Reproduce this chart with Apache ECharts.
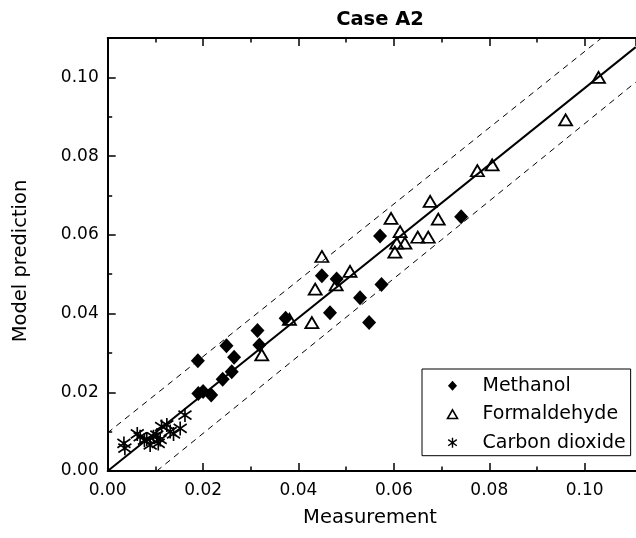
<!DOCTYPE html>
<html>
<head>
<meta charset="utf-8">
<script src="https://cdn.jsdelivr.net/npm/echarts@6/dist/echarts.min.js"></script>
<style>html,body{margin:0;padding:0;background:#fff}#c{width:636px;height:538px}</style>
</head>
<body>
<div id="c"></div>
<script>
// ---- data ----
const methanolX = [0.0189, 0.0190, 0.0200, 0.0217, 0.0241, 0.0249, 0.0260, 0.0265, 0.0314, 0.0318, 0.0373, 0.0449, 0.0466, 0.0480, 0.0529, 0.0548, 0.0571, 0.0574, 0.0741];
const methanolY = [0.0280, 0.0197, 0.0202, 0.0193, 0.0233, 0.0318, 0.0252, 0.0289, 0.0357, 0.0320, 0.0388, 0.0496, 0.0402, 0.0488, 0.0440, 0.0377, 0.0597, 0.0474, 0.0646];
const formX = [0.0323, 0.0381, 0.0428, 0.0435, 0.0449, 0.0479, 0.0508, 0.0594, 0.0602, 0.0606, 0.0613, 0.0623, 0.0650, 0.0672, 0.0676, 0.0693, 0.0775, 0.0806, 0.0960, 0.1029];
const formY = [0.0295, 0.0385, 0.0377, 0.0462, 0.0545, 0.0473, 0.0507, 0.0642, 0.0556, 0.0579, 0.0608, 0.0579, 0.0594, 0.0594, 0.0685, 0.0640, 0.0763, 0.0778, 0.0892, 0.1000];
const co2X = [0.0034, 0.0036, 0.0062, 0.0068, 0.0077, 0.0082, 0.0089, 0.0096, 0.0103, 0.0106, 0.0110, 0.0113, 0.0124, 0.0131, 0.0138, 0.0152, 0.0162];
const co2Y = [0.0070, 0.0058, 0.0094, 0.0087, 0.0078, 0.0081, 0.0066, 0.0087, 0.0091, 0.0070, 0.0080, 0.0113, 0.0117, 0.0100, 0.0094, 0.0108, 0.0142];
const fitLine = [[0, 0], [0.1107, 0.1077]];
const upperBand = [[0, 0.0097], [0.1035, 0.1100]];
const lowerBand = [[0.0103, 0], [0.1107, 0.0988]];
const seriesNames = ['Methanol', 'Formaldehyde', 'Carbon dioxide'];
const titleText = 'Case A2';
const xName = 'Measurement';
const yName = 'Model prediction';
const xMax = 0.1107, yMax = 0.11, xMinorMax = 0.10;

function pairs(xs, ys) { return xs.map((x, i) => [x, ys[i]]); }

const FONT = '"DejaVu Sans", sans-serif';
const BLACK = '#000';
const DIAMOND = 'path://M5,0L10,5.5L5,11L0,5.5Z';
const TRIANGLE = 'path://M5,0L10,8.66L0,8.66Z';
const STAR = 'path://M5,0L5,10M0.7,1.9L9.3,8.1M9.3,1.9L0.7,8.1';

const pxLeft = 107.7, pxTop = 38.1, pxPerX = 4770, pxPerY = 3935;

const majorTick = { show: true, inside: true, length: 8, lineStyle: { color: BLACK, width: 1.5 } };
const minorTick = { show: true, inside: true, length: 4.5, lineStyle: { color: BLACK, width: 1.5 } };
const axisLine = { show: true, onZero: false, lineStyle: { color: BLACK, width: 2 } };
const label = { color: BLACK, fontSize: 17, fontFamily: FONT, formatter: v => v.toFixed(2), showMaxLabel: false };

const chart = echarts.init(document.getElementById('c'), null, { renderer: 'canvas' });
chart.setOption({
  animation: false,
  backgroundColor: '#fff',
  grid: [
    { left: pxLeft, top: pxTop, width: xMax * pxPerX, height: yMax * pxPerY, containLabel: false, outerBoundsMode: 'none' },
    { left: pxLeft, top: pxTop, width: xMinorMax * pxPerX, height: yMax * pxPerY, containLabel: false, outerBoundsMode: 'none' }
  ],
  xAxis: [
    { gridIndex: 0, type: 'value', position: 'bottom', min: 0, max: xMax, interval: 0.02, axisLine, axisTick: majorTick,
      axisLabel: Object.assign({ margin: 11 }, label), splitLine: { show: false } },
    { gridIndex: 0, type: 'value', position: 'top', min: 0, max: xMax, interval: 0.02, axisLine, axisTick: majorTick,
      axisLabel: { show: false }, splitLine: { show: false } },
    { gridIndex: 1, type: 'value', position: 'bottom', min: 0, max: xMinorMax, interval: 0.01, axisLine: { show: false, onZero: false }, axisTick: minorTick,
      axisLabel: { show: false }, splitLine: { show: false } },
    { gridIndex: 1, type: 'value', position: 'top', min: 0, max: xMinorMax, interval: 0.01, axisLine: { show: false, onZero: false }, axisTick: minorTick,
      axisLabel: { show: false }, splitLine: { show: false } }
  ],
  yAxis: [
    { gridIndex: 0, type: 'value', position: 'left', min: 0, max: yMax, interval: 0.02, axisLine, axisTick: majorTick,
      axisLabel: Object.assign({ margin: 9 }, label), splitLine: { show: false } },
    { gridIndex: 0, type: 'value', position: 'left', offset: 0, min: 0, max: yMax, interval: 0.01, axisLine: { show: false, onZero: false }, axisTick: minorTick,
      axisLabel: { show: false }, splitLine: { show: false } },
    { gridIndex: 1, type: 'value', show: false, min: 0, max: yMax }
  ],
  legend: {
    orient: 'vertical', left: 422, top: 369,
    padding: [7.2, 5, 3.5, 24.7], itemGap: 9.5, itemWidth: 10, itemHeight: 10,
    borderColor: BLACK, borderWidth: 1, backgroundColor: '#fff', borderRadius: 0,
    symbolKeepAspect: true, selectedMode: false,
    textStyle: { color: BLACK, fontSize: 19, fontFamily: FONT, padding: [0, 0, 0, 20] },
    data: [
      { name: seriesNames[0], icon: DIAMOND, itemStyle: { borderWidth: 0 } },
      { name: seriesNames[1], icon: TRIANGLE, itemStyle: { borderWidth: 1.6 } },
      { name: seriesNames[2], icon: STAR, itemStyle: { borderWidth: 1.4 } }
    ]
  },
  graphic: [
    { type: 'text', x: 380, y: 20, style: { text: titleText, font: 'bold 19.5px ' + FONT, fill: BLACK, textAlign: 'center', textVerticalAlign: 'middle' } },
    { type: 'text', x: 370, y: 518, style: { text: xName, font: '19.5px ' + FONT, fill: BLACK, textAlign: 'center', textVerticalAlign: 'middle' } },
    { type: 'text', x: 21, y: 261, rotation: Math.PI / 2, style: { text: yName, font: '19.5px ' + FONT, fill: BLACK, textAlign: 'center', textVerticalAlign: 'middle' } }
  ],
  series: [
    { type: 'line', name: 'fit', data: fitLine, xAxisIndex: 0, yAxisIndex: 0, symbol: 'none', silent: true, clip: true, z: 1,
      lineStyle: { color: BLACK, width: 2 } },
    { type: 'line', name: 'upper', data: upperBand, xAxisIndex: 0, yAxisIndex: 0, symbol: 'none', silent: true, clip: true, z: 1,
      lineStyle: { color: BLACK, width: 1, type: [6, 5] } },
    { type: 'line', name: 'lower', data: lowerBand, xAxisIndex: 0, yAxisIndex: 0, symbol: 'none', silent: true, clip: true, z: 1,
      lineStyle: { color: BLACK, width: 1, type: [6, 5] } },
    { type: 'scatter', name: seriesNames[0], data: pairs(methanolX, methanolY), xAxisIndex: 0, yAxisIndex: 0, z: 3,
      symbol: DIAMOND, symbolSize: [14, 15], itemStyle: { color: BLACK, opacity: 1 } },
    { type: 'scatter', name: seriesNames[1], data: pairs(formX, formY), xAxisIndex: 0, yAxisIndex: 0, z: 3,
      symbol: TRIANGLE, symbolSize: [13, 11], itemStyle: { color: 'rgba(255,255,255,0)', borderColor: BLACK, borderWidth: 1.8, opacity: 1 } },
    { type: 'scatter', name: seriesNames[2], data: pairs(co2X, co2Y), xAxisIndex: 0, yAxisIndex: 0, z: 3,
      symbol: STAR, symbolSize: [13, 14], itemStyle: { color: 'rgba(255,255,255,0)', borderColor: BLACK, borderWidth: 1.7, opacity: 1 } }
  ]
});
</script>
</body>
</html>
